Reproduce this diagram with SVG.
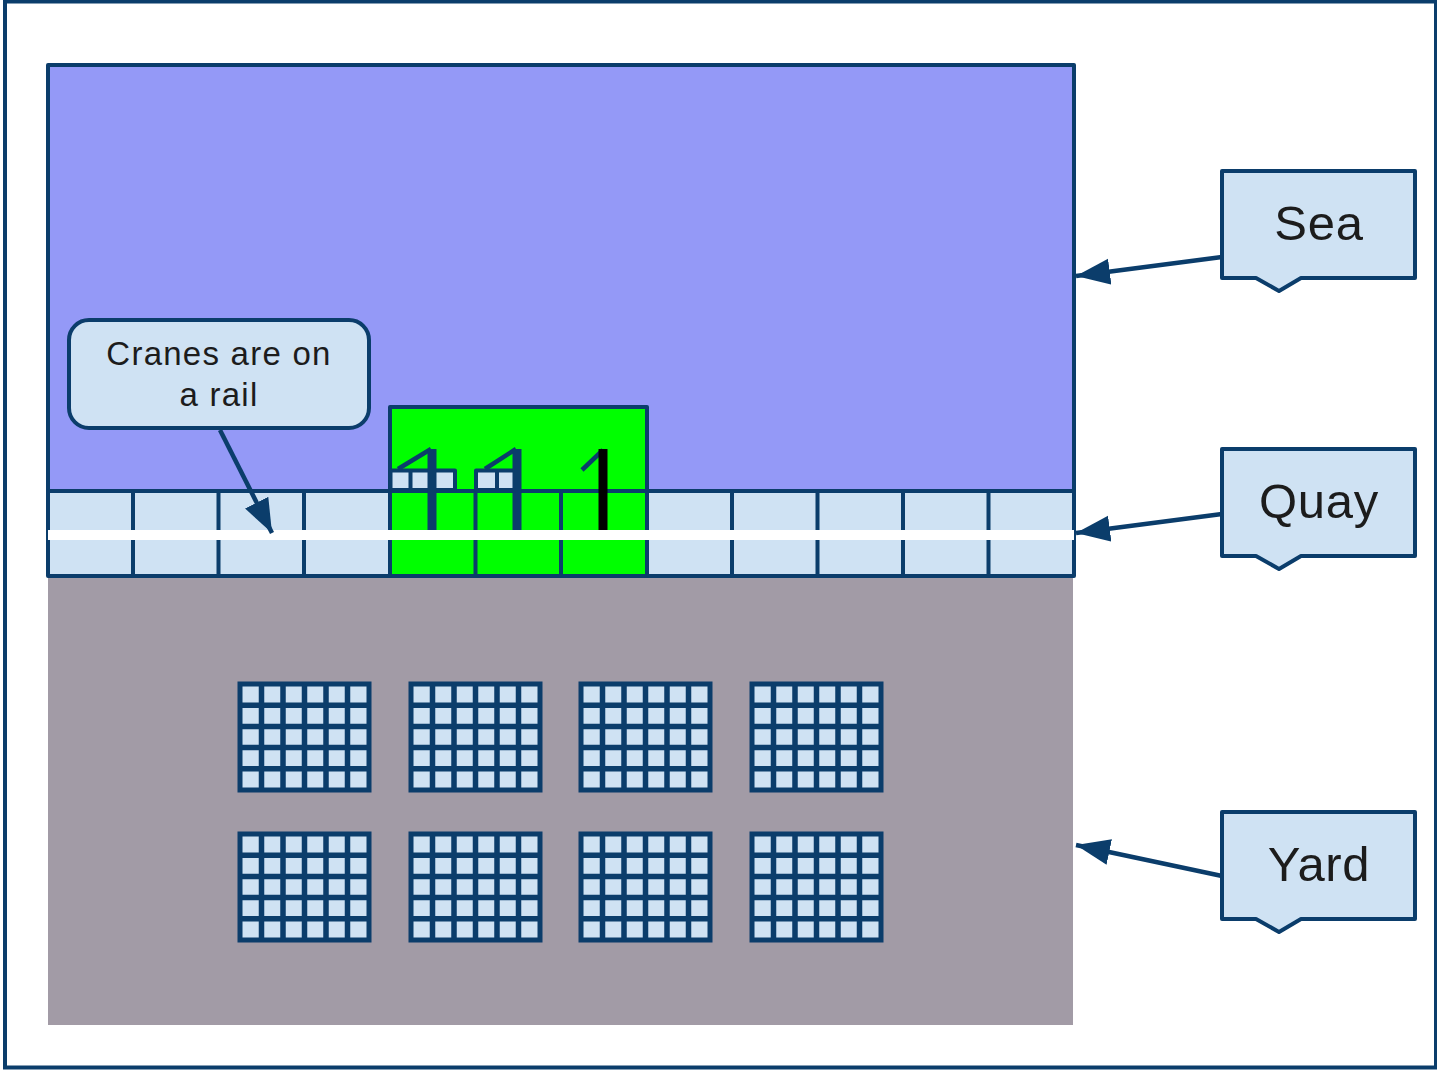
<svg xmlns="http://www.w3.org/2000/svg" width="1437" height="1070" viewBox="0 0 1437 1070">
<style>
.ln{stroke:#0b3d6b;stroke-width:4;stroke-linejoin:round}
.cell{fill:#cfe2f3}
.green{fill:#00ff00}
.conn{fill:none;stroke:#0b3d6b;stroke-width:4.5;marker-end:url(#ah)}
.t{font-family:"Liberation Sans",Arial,sans-serif;fill:#1c1c1c;text-anchor:middle}
.big{font-size:49px;letter-spacing:.7px}
.small{font-size:33px;letter-spacing:1.25px}
.mast{stroke:#0b3d6b;stroke-width:9;fill:none}
.boom{stroke:#0b3d6b;stroke-width:4.500;fill:none}
</style>
<defs>
<marker id="ah" markerUnits="userSpaceOnUse" markerWidth="36" markerHeight="28" refX="34" refY="13" orient="auto"><path d="M0 0L34 13L0 26Z" fill="#0b3d6b"/></marker>
<g id="blk"><rect x="0" y="0" width="129" height="106" fill="#cfe2f3" stroke="#0b3d6b" stroke-width="5"/><path d="M21.5 0V106M43 0V106M64.500 0V106M86 0V106M107.500 0V106M0 21.200H129M0 42.400H129M0 63.600H129M0 84.800H129" stroke="#0b3d6b" stroke-width="5.500" fill="none"/></g>
</defs>
<rect width="1437" height="1070" fill="#fff"/>
<g id="frame"><rect x="5" y="1.500" width="1431" height="1066" fill="#fff" stroke="#0b3d6b" stroke-width="4"/></g>
<g id="sea"><rect x="48" y="65" width="1026" height="426" fill="#9499f7" class="ln"/></g>
<g id="yard"><rect x="48" y="577" width="1025" height="448" fill="#a29ba6"/></g>
<g id="crane-area"><rect x="390" y="407" width="257" height="169" class="green ln"/></g>
<g id="quay">
<rect x="48" y="491" width="1026" height="85" class="cell"/>
<rect x="390" y="491" width="257" height="85" class="green"/>
<path class="ln" fill="none" d="M48 491H1074V576H48ZM133 491V576M218.500 491V576M304 491V576M390 491V576M475.500 491V576M561 491V576M647 491V576M732 491V576M817.500 491V576M903 491V576M988.500 491V576"/>
</g>
<g id="cranes">
<g id="crane-1"><path class="ln" fill="#cfe2f3" d="M390.500 470.500H410.500V490H390.500ZM410.500 470.500H432V490H410.500ZM432 470.500H455V490H432Z"/><path class="boom" d="M431 449L398 469"/><path class="mast" d="M432 449V530"/></g>
<g id="crane-2"><path class="ln" fill="#cfe2f3" d="M476 470.500H497V490H476ZM497 470.500H515V490H497Z"/><path class="boom" d="M516 449L485 469"/><path class="mast" d="M517 449V530"/></g>
<g id="crane-3"><path class="boom" d="M603 450L582 470"/><path d="M603 449V530" fill="none" stroke="#000" stroke-width="9"/></g>
</g>
<g id="rail"><rect x="48" y="530" width="1026" height="10" fill="#fff"/></g>
<g id="blocks">
<use href="#blk" x="240" y="684"/><use href="#blk" x="411" y="684"/><use href="#blk" x="581" y="684"/><use href="#blk" x="752" y="684"/>
<use href="#blk" x="240" y="834"/><use href="#blk" x="411" y="834"/><use href="#blk" x="581" y="834"/><use href="#blk" x="752" y="834"/>
</g>
<g id="connectors">
<path class="conn" d="M1222 257L1076 276"/>
<path class="conn" d="M1222 514L1076 533"/>
<path class="conn" d="M1222 876L1076 845"/>
<path class="conn" d="M220 430L272 533"/>
</g>
<g id="note-cranes"><rect x="69" y="320" width="300" height="108" rx="20" class="cell ln"/><text class="t small" x="219" y="365">Cranes are on</text><text class="t small" x="219" y="406">a rail</text></g>
<g id="label-sea"><path class="cell ln" d="M1222 171H1415V278H1301L1279 291L1256 278H1222Z"/><text class="t big" x="1319" y="240">Sea</text></g>
<g id="label-quay"><path class="cell ln" d="M1222 449H1415V556H1301L1279 569L1256 556H1222Z"/><text class="t big" x="1319" y="518">Quay</text></g>
<g id="label-yard"><path class="cell ln" d="M1222 812H1415V919H1301L1279 932L1256 919H1222Z"/><text class="t big" x="1319" y="881">Yard</text></g>
</svg>
